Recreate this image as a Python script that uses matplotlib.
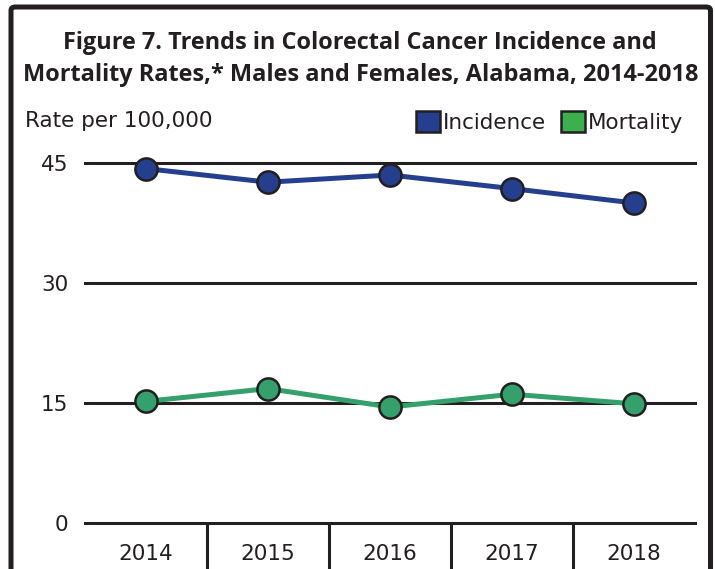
import matplotlib
matplotlib.use("Agg")
import matplotlib.pyplot as plt
from matplotlib.patches import Patch, FancyBboxPatch

plt.rcParams['font.family'] = ['DejaVu Sans']

# Data
years = ['2014', '2015', '2016', '2017', '2018']
incidence = [44.3, 42.6, 43.5, 41.8, 40.0]
mortality = [15.2, 16.8, 14.5, 16.1, 14.9]
yticks = [0, 15, 30, 45]

inc_color = '#253F8F'
mort_line = '#34A06C'
mort_legend = '#3BB04E'
dark = '#231F20'

fig = plt.figure(figsize=(7.15, 5.69), dpi=100)
W, H = 715, 569

# Outer frame (bottom edge runs off the image)
frame = FancyBboxPatch((11 / W, -0.05), 699.5 / W, (H - 7) / H + 0.05,
                       boxstyle='round,pad=0,rounding_size=0.006',
                       transform=fig.transFigure, fill=False,
                       edgecolor=dark, linewidth=3.6)
fig.patches.append(frame)

# Title
title_font = dict(ha='center', va='center', fontsize=16.9, fontweight='bold',
                  color=dark, family=['Open Sans', 'DejaVu Sans'])
fig.text(0.504, (H - 43) / H, 'Figure 7. Trends in Colorectal Cancer Incidence and', **title_font)
fig.text(0.504, (H - 75) / H, 'Mortality Rates,* Males and Females, Alabama, 2014-2018', **title_font)

fig.text(25 / W, (H - 121) / H, 'Rate per 100,000', ha='left', va='center',
         fontsize=15.5, color=dark)

# Axes
ax = fig.add_axes([85 / W, 46 / H, 610 / W, 360 / H])
x = list(range(len(years)))
ax.set_xlim(-0.5, len(years) - 0.5)
ax.set_ylim(0, 45)

for y in yticks:
    ax.axhline(y, color=dark, linewidth=2.2, zorder=1, clip_on=False)

ax.plot(x, incidence, color=inc_color, linewidth=3.6, marker='o', markersize=16,
        markerfacecolor=inc_color, markeredgecolor=dark, markeredgewidth=1.8,
        zorder=3, clip_on=False)
ax.plot(x, mortality, color=mort_line, linewidth=3.6, marker='o', markersize=16,
        markerfacecolor=mort_line, markeredgecolor=dark, markeredgewidth=1.8,
        zorder=3, clip_on=False)

for s in ax.spines.values():
    s.set_visible(False)

ax.set_yticks(yticks)
ax.set_yticklabels([str(v) for v in yticks])
ax.tick_params(axis='y', length=0, pad=12, labelsize=15.5, labelcolor=dark)

ax.set_xticks(x)
ax.set_xticklabels(years)
ax.tick_params(axis='x', which='major', length=0, pad=15, labelsize=15.5, labelcolor=dark)
ax.set_xticks([i + 0.5 for i in x[:-1]], minor=True)
ax.tick_params(axis='x', which='minor', length=36, width=2.2, color=dark, direction='out')

# Legend
handles = [Patch(facecolor=inc_color, edgecolor=dark, linewidth=1.8, label='Incidence'),
           Patch(facecolor=mort_legend, edgecolor=dark, linewidth=1.8, label='Mortality')]
fig.legend(handles=handles, loc='center right', bbox_to_anchor=(703 / W, (H - 122) / H),
           frameon=False, fontsize=15.5, ncol=2, handlelength=1.1, handleheight=1.1,
           handletextpad=0.15, columnspacing=0.7, labelcolor=dark)

fig.savefig('out.png', dpi=100)
